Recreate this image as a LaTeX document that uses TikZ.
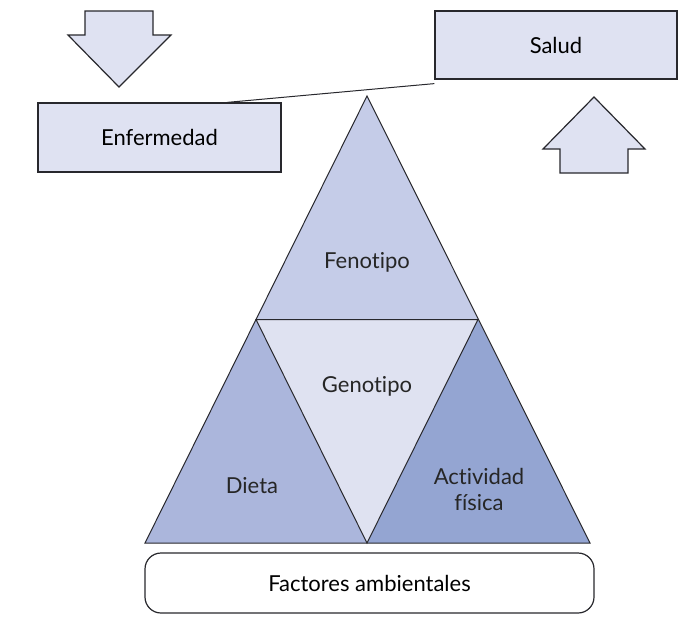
\documentclass[tikz,border=0pt]{standalone}
\usepackage{fontspec}
\setmainfont{Lato}[Ligatures=NoCommon]
\usetikzlibrary{positioning, calc}
\definecolor{boxfill}{RGB}{223,226,242}
\definecolor{fenofill}{RGB}{197,204,232}
\definecolor{dietfill}{RGB}{171,182,220}
\definecolor{actfill}{RGB}{148,165,210}
\definecolor{genofill}{RGB}{223,226,241}
\definecolor{linegray}{RGB}{40,40,45}

\begin{document}
\begin{tikzpicture}[
  x=0.5pt, y=-0.5pt,
  box/.style={rectangle, draw=linegray, line width=0.6pt, fill=boxfill, align=center,
              font=\fontsize{11}{13}\selectfont},
  blockarrow/.style={draw=linegray, line width=0.6pt, fill=boxfill, line join=miter},
  tri/.style={draw=linegray, line width=0.5pt, line join=miter},
  lbl/.style={align=center, font=\fontsize{11}{13}\selectfont, text=black!85}
]
\useasboundingbox (0,0) rectangle (700,638);
% pyramid corners
\coordinate (top) at (367,96);
\coordinate (ml) at (256,319.5);
\coordinate (mr) at (478,319.5);
\coordinate (bl) at (145,543);
\coordinate (bm) at (367,543);
\coordinate (br) at (590,543);
\fill[dietfill] (ml) -- (bl) -- (bm) -- cycle;
\fill[actfill] (mr) -- (bm) -- (br) -- cycle;
\fill[genofill] (ml) -- (mr) -- (bm) -- cycle;
\fill[fenofill] (top) -- (ml) -- (mr) -- cycle;
\draw[tri] (top) -- (bl) -- (br) -- cycle;
\draw[tri] (ml) -- (mr) -- (bm) -- cycle;
\node[lbl] (feno) at (367,262) {Fenotipo};
\node[lbl] (geno) at (367,386) {Genotipo};
\node[lbl] (dieta) at (252,486) {Dieta};
\node[lbl] (act) at (479,489) {Actividad\\[0pt]física};
% boxes
\node[box, minimum width=121.5pt, minimum height=34.5pt] (enf) at (159.5,137.5) {Enfermedad};
\node[box, minimum width=121pt, minimum height=34pt] (sal) at (556,45) {Salud};
\node[box, rounded corners=8pt, fill=white, minimum width=224.5pt, minimum height=30pt] (amb) at (369.5,583) {Factores ambientales};
\draw[line width=0.5pt, linegray] ([xshift=33.75pt]enf.north) -- ([yshift=-2pt]sal.south west);
% block arrows
\draw[blockarrow] (85,11) -- (153,11) -- (153,35) -- (171,35) -- (119,87) -- (68,35) -- (85,35) -- cycle;
\draw[blockarrow] (560,173) -- (628,173) -- (628,149) -- (645,149) -- (594,97) -- (543,149) -- (560,149) -- cycle;
\end{tikzpicture}
\end{document}
